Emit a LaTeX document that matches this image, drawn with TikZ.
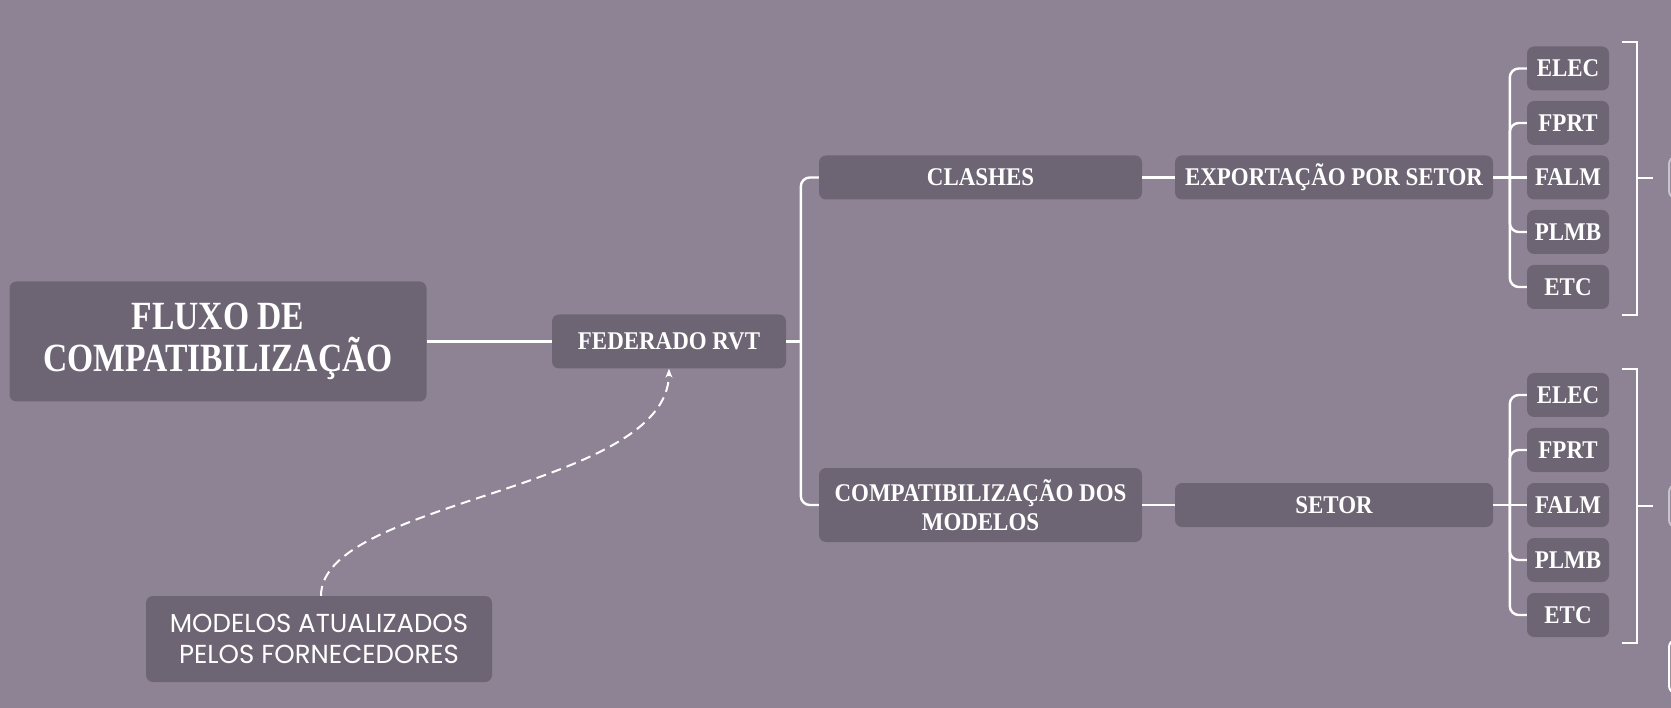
\documentclass[tikz,border=0pt]{standalone}
\usepackage{fontspec}
\setmainfont{Liberation Serif}[FakeStretch=0.9]
\newfontfamily\titlefont{Liberation Serif}[FakeStretch=0.84]
\newfontfamily\modfont{Poppins}
\usetikzlibrary{arrows.meta}
\definecolor{bgc}{RGB}{141,131,148}
\definecolor{nodec}{RGB}{110,101,116}
\definecolor{rimc}{RGB}{200,196,204}
\tikzset{
  box/.style={fill=nodec, rounded corners=7pt, text=white, align=center, inner sep=0pt,
    font=\bfseries\fontsize{25.5}{29}\selectfont},
  smallbox/.style={box, minimum width=82pt, minimum height=44pt},
  conn/.style={draw=white, line width=2.4pt, rounded corners=9pt},
  partial/.style={draw=rimc, line width=2pt, rounded corners=7pt, fill=bgc, minimum width=100pt, inner sep=0pt}
}
\begin{document}
\begin{tikzpicture}[x=1pt,y=-1pt]
\useasboundingbox[fill=bgc] (0,0) rectangle (1671,708);
\begin{scope}
\clip (0,0) rectangle (1671,708);
% main nodes
\node[box, minimum width=417pt, minimum height=120pt, font=\titlefont\bfseries\fontsize{40}{42}\selectfont] (title) at (218,341.5) {FLUXO DE\\COMPATIBILIZAÇÃO};
\node[box, minimum width=234pt, minimum height=54pt] (fed) at (669,341.5) {FEDERADO RVT};
\node[box, minimum width=323pt, minimum height=44pt] (clash) at (980.5,177.5) {CLASHES};
\node[box, minimum width=318pt, minimum height=44pt] (exp) at (1334,177.5) {EXPORTAÇÃO POR SETOR};
\node[box, minimum width=323pt, minimum height=74pt] (comp) at (980.5,505) {COMPATIBILIZAÇÃO DOS\\MODELOS};
\node[box, minimum width=318pt, minimum height=44pt] (setor) at (1334,505) {SETOR};
\node[box, minimum width=346pt, minimum height=86pt, font=\modfont\fontsize{26}{31}\selectfont] (mod) at (319,639) {MODELOS ATUALIZADOS\\PELOS FORNECEDORES};
% small nodes upper
\node[smallbox] (ua) at (1568,68.5) {ELEC};
\node[smallbox] (ub) at (1568,123) {FPRT};
\node[smallbox] (uc) at (1568,177.5) {FALM};
\node[smallbox] (ud) at (1568,232) {PLMB};
\node[smallbox] (ue) at (1568,287) {ETC};
% small nodes lower
\node[smallbox] (la) at (1568,395) {ELEC};
\node[smallbox] (lb) at (1568,450) {FPRT};
\node[smallbox] (lc) at (1568,505) {FALM};
\node[smallbox] (ld) at (1568,560) {PLMB};
\node[smallbox] (le) at (1568,615) {ETC};
% partial nodes at right edge
\node[partial, minimum height=41pt, anchor=west] (pu) at (1668,177.5) {};
\node[partial, minimum height=42pt, anchor=west] (pl) at (1668,506) {};
\node[partial, draw=white, minimum height=53pt, anchor=west] (pb) at (1668,666.5) {};
% connectors
\draw[conn] (title.east) -- (fed.west);
\draw[conn] (fed.east) -- ++(15,0);
\draw[conn] (clash.west) -- ++(-18,0) |- (comp.west);
\draw[conn] (clash.east) -- (exp.west);
\draw[conn] (comp.east) -- (setor.west);
\draw[conn] (exp.east) -- (uc.west);
\draw[conn] (ua.west) -- ++(-17,0) |- (ue.west);
\draw[conn] (ub.west) -- ++(-17,0) |- (ud.west);
\draw[conn] (setor.east) -- (lc.west);
\draw[conn] (la.west) -- ++(-17,0) |- (le.west);
\draw[conn] (lb.west) -- ++(-17,0) |- (ld.west);
% brackets
\coordinate (ubt) at (1622,42);
\coordinate (ubb) at (1622,315);
\draw[draw=white, line width=2.4pt] (ubt) -- ++(15,0) -- ++(0,273) -- (ubb);
\draw[draw=white, line width=2.4pt] (1637,178) -- (1653,178);
\coordinate (lbt) at (1622,369);
\coordinate (lbb) at (1622,643);
\draw[draw=white, line width=2.4pt] (lbt) -- ++(15,0) -- ++(0,274) -- (lbb);
\draw[draw=white, line width=2.4pt] (1637,506) -- (1653,506);
% dashed arrow
\draw[draw=white, line width=2pt, dash pattern=on 10pt off 6pt, -{Stealth[length=9pt,width=7pt]}]
  ([xshift=2pt]mod.north) .. controls (321,500) and (668,490) .. (fed.south);
\end{scope}
\end{tikzpicture}
\end{document}
